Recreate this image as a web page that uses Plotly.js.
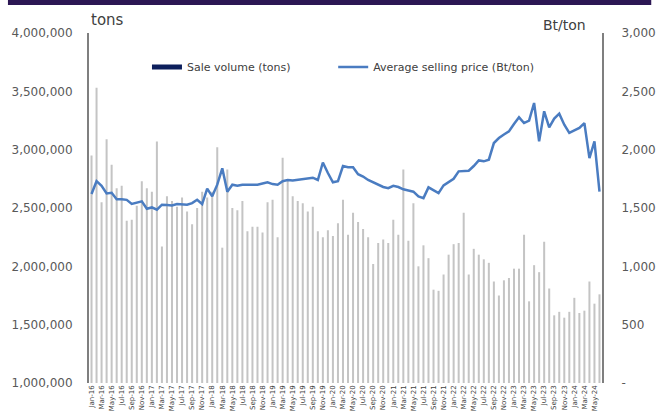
<!DOCTYPE html>
<html>
<head>
<meta charset="utf-8">
<script src="https://cdn.plot.ly/plotly-3.0.1.min.js"></script>
<style>
	html, body { margin: 0; padding: 0; background: #fff; }
	#chart { width: 658px; height: 412px; }
</style>
</head>
<body>
<div id="chart"></div>
<script>
	/* Data */
	var months = [
		'Jan-16','Feb-16','Mar-16','Apr-16','May-16','Jun-16','Jul-16','Aug-16','Sep-16','Oct-16','Nov-16','Dec-16',
		'Jan-17','Feb-17','Mar-17','Apr-17','May-17','Jun-17','Jul-17','Aug-17','Sep-17','Oct-17','Nov-17','Dec-17',
		'Jan-18','Feb-18','Mar-18','Apr-18','May-18','Jun-18','Jul-18','Aug-18','Sep-18','Oct-18','Nov-18','Dec-18',
		'Jan-19','Feb-19','Mar-19','Apr-19','May-19','Jun-19','Jul-19','Aug-19','Sep-19','Oct-19','Nov-19','Dec-19',
		'Jan-20','Feb-20','Mar-20','Apr-20','May-20','Jun-20','Jul-20','Aug-20','Sep-20','Oct-20','Nov-20','Dec-20',
		'Jan-21','Feb-21','Mar-21','Apr-21','May-21','Jun-21','Jul-21','Aug-21','Sep-21','Oct-21','Nov-21','Dec-21',
		'Jan-22','Feb-22','Mar-22','Apr-22','May-22','Jun-22','Jul-22','Aug-22','Sep-22','Oct-22','Nov-22','Dec-22',
		'Jan-23','Feb-23','Mar-23','Apr-23','May-23','Jun-23','Jul-23','Aug-23','Sep-23','Oct-23','Nov-23','Dec-23',
		'Jan-24','Feb-24','Mar-24','Apr-24','May-24','Jun-24'
	];

	// monthly sale volume (tons)
	var saleVolume = [
		2950000, 3530000, 2550000, 3090000, 2870000, 2670000, 2690000, 2390000, 2400000, 2520000, 2730000, 2670000,
		2640000, 3070000, 2170000, 2600000, 2560000, 2510000, 2590000, 2470000, 2360000, 2500000, 2640000, 2590000,
		2640000, 3020000, 2160000, 2830000, 2500000, 2480000, 2560000, 2300000, 2340000, 2340000, 2290000, 2550000,
		2570000, 2250000, 2930000, 2740000, 2600000, 2560000, 2540000, 2470000, 2510000, 2300000, 2250000, 2310000,
		2260000, 2370000, 2570000, 2270000, 2460000, 2380000, 2320000, 2250000, 2020000, 2200000, 2230000, 2200000,
		2400000, 2270000, 2830000, 2220000, 2540000, 2000000, 2180000, 2070000, 1800000, 1790000, 1930000, 2100000,
		2190000, 2200000, 2460000, 1930000, 2150000, 2100000, 2060000, 2030000, 1870000, 1750000, 1880000, 1900000,
		1980000, 1980000, 2270000, 1700000, 2010000, 1950000, 2210000, 1810000, 1580000, 1610000, 1560000, 1610000,
		1730000, 1600000, 1620000, 1870000, 1680000, 1760000
	];

	// average selling price (Bt/ton)
	var avgPrice = [
		1620, 1730, 1690, 1625, 1630, 1575, 1575, 1570, 1535, 1545, 1557, 1494,
		1505, 1485, 1528, 1525, 1522, 1534, 1530, 1528, 1542, 1571, 1534, 1666,
		1600, 1700, 1840, 1640, 1700, 1690, 1700, 1700, 1700, 1700, 1710, 1720,
		1705, 1700, 1730, 1740, 1735, 1740, 1745, 1750, 1760, 1740, 1890, 1800,
		1720, 1730, 1860, 1850, 1850, 1790, 1770, 1740, 1720, 1700, 1680, 1670,
		1690, 1680, 1660, 1650, 1640, 1600, 1585, 1677, 1650, 1628, 1694, 1720,
		1751, 1814, 1818, 1820, 1860, 1908, 1900, 1914, 2057, 2100, 2130, 2157,
		2220, 2277, 2228, 2249, 2400, 2071, 2329, 2191, 2266, 2309, 2214, 2143,
		2165, 2186, 2228, 1928, 2071, 1640
	];

	var volumeTicks = [1000000, 1500000, 2000000, 2500000, 3000000, 3500000, 4000000];
	var volumeTickText = ['1,000,000', '1,500,000', '2,000,000', '2,500,000', '3,000,000', '3,500,000', '4,000,000'];
	var priceTicks = [0, 500, 1000, 1500, 2000, 2500, 3000];
	var priceTickText = ['-', '500', '1,000', '1,500', '2,000', '2,500', '3,000'];

	/* Chart */
	var tickFont = { family: 'DejaVu Sans', size: 12, color: '#595959' };
	var legendFont = { family: 'DejaVu Sans', size: 11, color: '#404040' };

	var traces = [
		{
			type: 'bar',
			x: months,
			y: saleVolume,
			name: 'Sale volume (tons)',
			marker: { color: '#c4c4c4' },
			showlegend: false,
			hoverinfo: 'skip'
		},
		{
			// legend entry only, the swatch is dark navy in the original
			type: 'scatter',
			mode: 'lines',
			x: [null],
			y: [null],
			name: 'Sale volume (tons)',
			line: { color: '#0d1f5c', width: 5 },
			showlegend: true,
			legend: 'legend'
		},
		{
			type: 'scatter',
			mode: 'lines',
			x: months,
			y: avgPrice,
			yaxis: 'y2',
			name: 'Average selling price (Bt/ton)',
			line: { color: '#4a7cc1', width: 2.5 },
			legend: 'legend2'
		}
	];

	var layout = {
		width: 658,
		height: 412,
		margin: { l: 89, r: 56, t: 33, b: 29 },
		paper_bgcolor: '#ffffff',
		plot_bgcolor: '#ffffff',
		bargap: 0.6,
		showlegend: true,
		legend: {
			orientation: 'h',
			x: 0.113,
			xanchor: 'left',
			y: 0.903,
			yanchor: 'middle',
			font: legendFont,
			bgcolor: 'rgba(0,0,0,0)'
		},
		legend2: {
			orientation: 'h',
			x: 0.476,
			xanchor: 'left',
			y: 0.903,
			yanchor: 'middle',
			font: legendFont,
			bgcolor: 'rgba(0,0,0,0)'
		},
		xaxis: {
			type: 'category',
			tickmode: 'linear',
			tick0: 0,
			dtick: 2,
			tickangle: -90,
			tickfont: { family: 'DejaVu Sans', size: 7, color: '#404040' },
			showline: false,
			showgrid: false,
			zeroline: false,
			ticks: '',
			automargin: false
		},
		yaxis: {
			range: [1000000, 4000000],
			tickvals: volumeTicks,
			ticktext: volumeTickText,
			tickfont: tickFont,
			showline: true,
			linecolor: '#7f7f7f',
			linewidth: 2,
			showgrid: false,
			zeroline: false,
			ticks: '',
			ticklabelstandoff: 12,
			automargin: false
		},
		yaxis2: {
			overlaying: 'y',
			side: 'right',
			range: [0, 3000],
			tickvals: priceTicks,
			ticktext: priceTickText,
			tickfont: tickFont,
			showline: true,
			linecolor: '#7f7f7f',
			linewidth: 2,
			showgrid: false,
			zeroline: false,
			ticks: '',
			ticklabelstandoff: 15,
			automargin: false
		},
		annotations: [
			{
				text: 'tons', xref: 'paper', yref: 'paper',
				x: 0.0, y: 1.005, xanchor: 'left', yanchor: 'bottom', showarrow: false,
				font: { family: 'DejaVu Sans', size: 15, color: '#404040' }
			},
			{
				text: 'Bt/ton', xref: 'paper', yref: 'paper',
				x: 0.972, y: 0.995, xanchor: 'right', yanchor: 'bottom', showarrow: false,
				font: { family: 'DejaVu Sans', size: 14, color: '#404040' }
			}
		],
		shapes: [
			{
				type: 'rect', xref: 'paper', yref: 'paper',
				x0: -0.158, x1: 1.096, y0: 1.08, y1: 1.095,
				line: { width: 0 }, fillcolor: '#2c1754', layer: 'above'
			}
		]
	};

	Plotly.newPlot('chart', traces, layout, { displayModeBar: false, staticPlot: true });
</script>
</body>
</html>
